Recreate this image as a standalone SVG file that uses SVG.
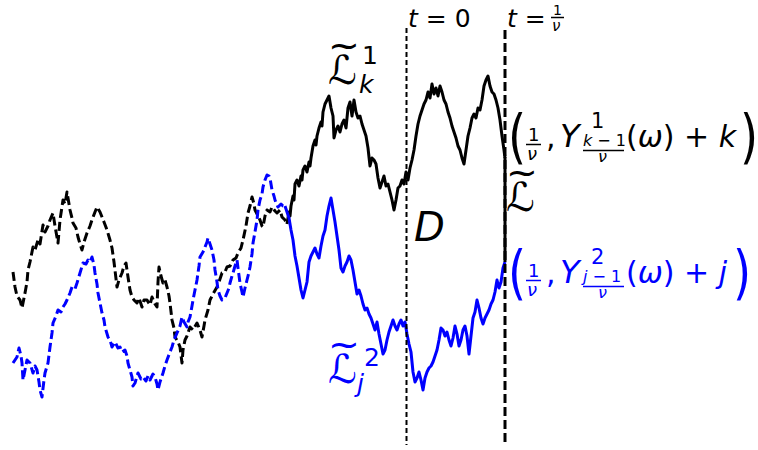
<svg xmlns="http://www.w3.org/2000/svg" width="758" height="450" viewBox="0 0 758 450">
<style>
.m{font-family:"DejaVu Sans",sans-serif;}
.it{font-style:italic;}
.k{fill:#000;}
.b{fill:#0000ff;}
.path{fill:none;stroke-width:3;stroke-linejoin:round;stroke-linecap:butt;}
.dash{stroke-dasharray:9 4;}
.bar{stroke-width:1.5;}
</style>
<rect width="758" height="450" fill="#fff"/>
<g id="connectors">
<polyline id="black-dashed" class="path dash" stroke="#000" points="13,272 15,287 17,296 20,300 22,308 24,298 25,293 27,282 28,270 30,262 33,247 35,250 38,240 40,244 43,225 45,232 48,226 50,220 53,213 55,226 58,243 60,220 63,200 65,204 67,192 68,198 70,210 72,218 73,223 76,228 78,237 80,244 82,250 84,242 87,233 90,226 92,220 95,212 97,207 100,212 102,217 104,222 107,230 110,240 112,248 114,262 117,287 119,280 122,273 124,266 126,263 128,277 130,290 132,297 134,300 137,303 139,298 142,307 144,300 147,300 150,305 152,297 155,304 157,307 158,282 159,267 161,276 163,283 165,280 167,287 169,296 170,303 172,320 174,328 175,337 178,342 180,347 182,363 183,350 185,340 187,336 190,327 193,330 197,323 200,330 202,337 204,326 205,320 208,310 210,300 213,294 217,287 219,282 222,273 225,272 227,267 230,266 233,260 236,258 238,253 241,248 243,240 246,226 248,213 250,206 252,197 254,204 255,210 258,216 260,220 262,226 263,227 265,216 267,210 270,212 272,207 275,211 277,213 280,210 282,217 285,220 287,224"/>
<polyline id="blue-dashed" class="path dash" stroke="#0000ff" points="13,363 15,360 17,357 19,348 21,356 22,363 23,380 25,370 27,360 30,363 33,373 35,366 37,370 39,382 40,390 42,397 44,380 45,373 48,363 50,347 52,333 53,323 56,316 58,310 61,312 63,307 65,304 67,300 70,293 72,287 75,289 77,283 80,273 83,263 86,264 88,260 90,262 92,257 94,265 95,273 97,284 98,293 100,303 102,313 104,320 105,327 108,337 110,340 112,347 115,342 118,348 120,347 122,352 125,350 127,356 128,363 130,370 132,377 133,386 135,383 137,376 138,373 141,379 143,377 146,381 148,376 150,380 153,374 155,377 157,384 158,390 160,382 163,373 165,366 167,360 170,352 172,347 174,340 177,333 180,326 182,317 184,322 187,327 188,322 190,317 192,306 193,300 195,290 197,280 199,266 200,257 203,252 205,247 207,242 208,238 210,244 212,250 214,260 215,270 217,282 218,290 220,296 222,300 225,298 227,293 229,288 230,283 232,276 233,273 235,266 237,260 238,268 240,283 242,292 243,297 245,288 247,280 249,272 250,267 252,254 253,243 255,232 257,220 258,210 260,200 262,194 263,187 265,180 267,175 269,176 270,178 272,190 274,196 275,200 277,205 278,207 281,204 283,206 285,206"/>
<polyline id="black-solid" class="path" stroke="#000" points="287,224 289,212 290,216 291,206 293,196 294,200 295,184 297,180 299,186 301,176 302,180 303,170 305,166 307,172 309,162 310,166 311,158 313,146 315,140 316,145 317,136 319,128 321,122 322,126 323,112 325,104 327,100 329,96 331,108 333,116 334,138 336,130 338,126 340,132 342,124 344,120 346,128 348,108 350,102 352,116 354,100 356,112 358,118 360,116 362,124 364,130 366,136 368,148 370,166 372,158 374,160 376,164 378,178 380,188 382,182 384,176 386,186 388,184 390,192 392,200 394,210 396,200 398,188 400,186 402,180 404,184 406,172 408,180 410,168 412,160 414,150 416,136 418,124 420,116 422,110 424,104 426,100 428,92 430,98 432,84 434,94 436,88 438,96 440,86 442,92 444,100 446,104 448,112 450,118 452,126 454,132 456,138 458,146 460,150 462,158 464,164 466,150 468,136 470,128 472,118 474,114 476,118 478,108 480,110 482,100 484,86 486,80 488,76 490,86 492,92 494,94 496,100 498,108 500,120 502,136 504,150 505,158"/>
<polyline id="blue-solid" class="path" stroke="#0000ff" points="285,206 287,212 289,218 291,230 293,240 295,256 297,266 299,278 301,290 303,298 305,290 307,282 309,262 311,256 313,252 315,248 317,254 319,258 321,246 323,236 325,230 327,216 329,206 331,198 333,210 335,222 337,236 339,250 341,268 343,272 345,266 347,262 349,256 351,260 353,270 355,282 357,294 359,290 361,296 363,304 365,310 367,308 369,314 371,318 373,324 375,330 377,322 379,334 381,344 383,354 385,350 387,340 389,332 391,326 393,320 395,326 397,330 399,324 401,320 403,326 405,322 407,334 409,344 411,352 413,372 415,382 417,378 419,372 421,380 423,390 425,378 427,372 429,368 431,366 433,362 435,356 437,350 439,340 441,328 443,330 445,336 447,332 449,340 451,346 453,338 455,326 457,334 459,346 461,340 463,330 465,326 467,336 469,354 471,336 473,318 475,312 477,300 479,308 481,318 483,324 485,318 487,314 489,310 491,304 493,300 495,292 497,280 499,288 501,282 503,268 505,262"/>
<line id="t0-line" x1="406.5" y1="28" x2="406.5" y2="445" stroke="#000" stroke-width="2" stroke-dasharray="5 3"/>
<line id="t1-line" x1="505" y1="30" x2="505" y2="445" stroke="#000" stroke-width="3" stroke-dasharray="9 4"/>
<line id="L-segment" x1="505" y1="157" x2="505" y2="262" stroke="#000" stroke-width="3"/>
</g>
<g id="label-t0" class="m k">
<text x="408" y="27" font-size="25"><tspan class="it">t</tspan> = 0</text>
</g>
<g id="label-t1" class="m k">
<text x="507" y="27" font-size="25"><tspan class="it">t</tspan> =</text>
<text x="553" y="15" font-size="14">1</text>
<line x1="551" y1="17.5" x2="564" y2="17.5" stroke="#000" class="bar"/>
<text x="552" y="31" font-size="15" class="it">ν</text>
</g>
<g id="label-L1k" class="m k">
<text x="328" y="58" font-size="38">~</text>
<text x="328" y="84" font-size="40">ℒ</text>
<text x="362" y="64" font-size="25">1</text>
<text x="359" y="93" font-size="25" class="it">k</text>
</g>
<g id="label-L2j" class="m b">
<text x="328" y="357" font-size="38">~</text>
<text x="328" y="383" font-size="40">ℒ</text>
<text x="364" y="366" font-size="25">2</text>
<text x="357" y="392" font-size="25" class="it">j</text>
</g>
<g id="label-L" class="m k">
<text x="506" y="185" font-size="38">~</text>
<text x="506" y="211" font-size="40">ℒ</text>
</g>
<g id="label-D" class="m k">
<text x="414" y="241" font-size="40" class="it">D</text>
</g>
<g id="label-top" class="m k">
<text transform="translate(508,157) scale(0.8,1)" font-size="58">(</text>
<text x="528" y="141" font-size="18">1</text>
<line x1="526" y1="144.5" x2="541" y2="144.5" stroke="#000" class="bar"/>
<text x="527" y="160" font-size="18" class="it">ν</text>
<text x="546" y="147" font-size="30">,</text>
<text x="560" y="147" font-size="32" class="it">Y</text>
<text x="591" y="128" font-size="21">1</text>
<text x="583" y="146" font-size="16"><tspan class="it">k</tspan> − 1</text>
<line x1="583" y1="150.5" x2="624" y2="150.5" stroke="#000" class="bar"/>
<text x="598" y="162" font-size="16" class="it">ν</text>
<text x="626" y="147" font-size="30">(<tspan class="it">ω</tspan>) + <tspan class="it">k</tspan></text>
<text transform="translate(740,157) scale(0.8,1)" font-size="58">)</text>
</g>
<g id="label-bottom" class="m b">
<text transform="translate(508,293) scale(0.8,1)" font-size="58">(</text>
<text x="528" y="277" font-size="18">1</text>
<line x1="526" y1="280.5" x2="541" y2="280.5" stroke="#0000ff" class="bar"/>
<text x="527" y="296" font-size="18" class="it">ν</text>
<text x="546" y="283" font-size="30">,</text>
<text x="560" y="283" font-size="32" class="it">Y</text>
<text x="591" y="264" font-size="21">2</text>
<text x="583" y="282" font-size="16"><tspan class="it">j</tspan> − 1</text>
<line x1="583" y1="286.5" x2="624" y2="286.5" stroke="#0000ff" class="bar"/>
<text x="598" y="298" font-size="16" class="it">ν</text>
<text x="626" y="283" font-size="30">(<tspan class="it">ω</tspan>) + <tspan class="it">j</tspan></text>
<text transform="translate(733,293) scale(0.8,1)" font-size="58">)</text>
</g>
</svg>
